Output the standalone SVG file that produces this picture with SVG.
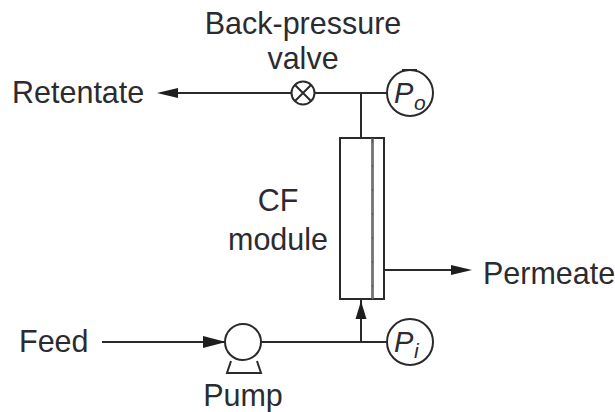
<svg xmlns="http://www.w3.org/2000/svg" width="615" height="412" viewBox="0 0 615 412">
<style>
.l{fill:none;stroke:#2a2a2a;stroke-width:2}
.t{font-family:"Liberation Sans",Arial,sans-serif;font-size:30.500px;fill:#2b2b30}
.i{font-family:"Liberation Sans",Arial,sans-serif;font-style:italic;fill:#2b2b30}
.a{fill:#1e1e1e;stroke:none}
</style>
<rect width="615" height="412" fill="#fff"/>
<g id="connectors">
<path class="l" d="M172 93H292M315 93H388M361 93V138"/>
<path class="l" d="M102 342H226M261 342H388M361 342V300"/>
<path class="l" d="M384 270H460"/>
<polygon class="a" points="157,93 178,88 178,98"/>
<polygon class="a" points="226,342 203,336 203,348"/>
<polygon class="a" points="361,301 355.500,319 366.500,319"/>
<polygon class="a" points="472,270 451,265 451,275"/>
</g>
<g id="back-pressure-valve">
<circle class="l" cx="303" cy="93" r="11.500" stroke-width="2.500"/>
<path class="l" d="M295 85L311 101M311 85L295 101"/>
<text class="t" x="303" y="34" text-anchor="middle">Back-pressure</text>
<text class="t" x="303" y="69" text-anchor="middle">valve</text>
</g>
<g id="retentate"><text class="t" x="12" y="103">Retentate</text></g>
<g id="po">
<circle class="l" cx="410" cy="93" r="23"/>
<path class="l" d="M402 70H417" stroke-width="2.500"/>
<text class="i" x="394" y="103" font-size="29">P</text>
<text class="i" x="414" y="110" font-size="21">o</text>
</g>
<g id="cf-module">
<rect class="l" x="340" y="138" width="44" height="161"/>
<path d="M372.500 138V299" fill="none" stroke="#555" stroke-width="2.500"/>
<path d="M372.500 143V299" fill="none" stroke="#777" stroke-width="1" stroke-dasharray="22 2"/>
<text class="t" x="278" y="211" text-anchor="middle">CF</text>
<text class="t" x="278" y="250" text-anchor="middle">module</text>
</g>
<g id="permeate"><text class="t" x="483" y="284">Permeate</text></g>
<g id="feed"><text class="t" x="19" y="352">Feed</text></g>
<g id="pump">
<circle class="l" cx="243" cy="342" r="18"/>
<path class="l" d="M231 361L227 373H261L257 361"/>
<text class="t" x="243" y="406" text-anchor="middle">Pump</text>
</g>
<g id="pi">
<circle class="l" cx="410" cy="342" r="23"/>
<text class="i" x="394" y="352" font-size="29">P</text>
<text class="i" x="414" y="358" font-size="21">i</text>
</g>
</svg>
